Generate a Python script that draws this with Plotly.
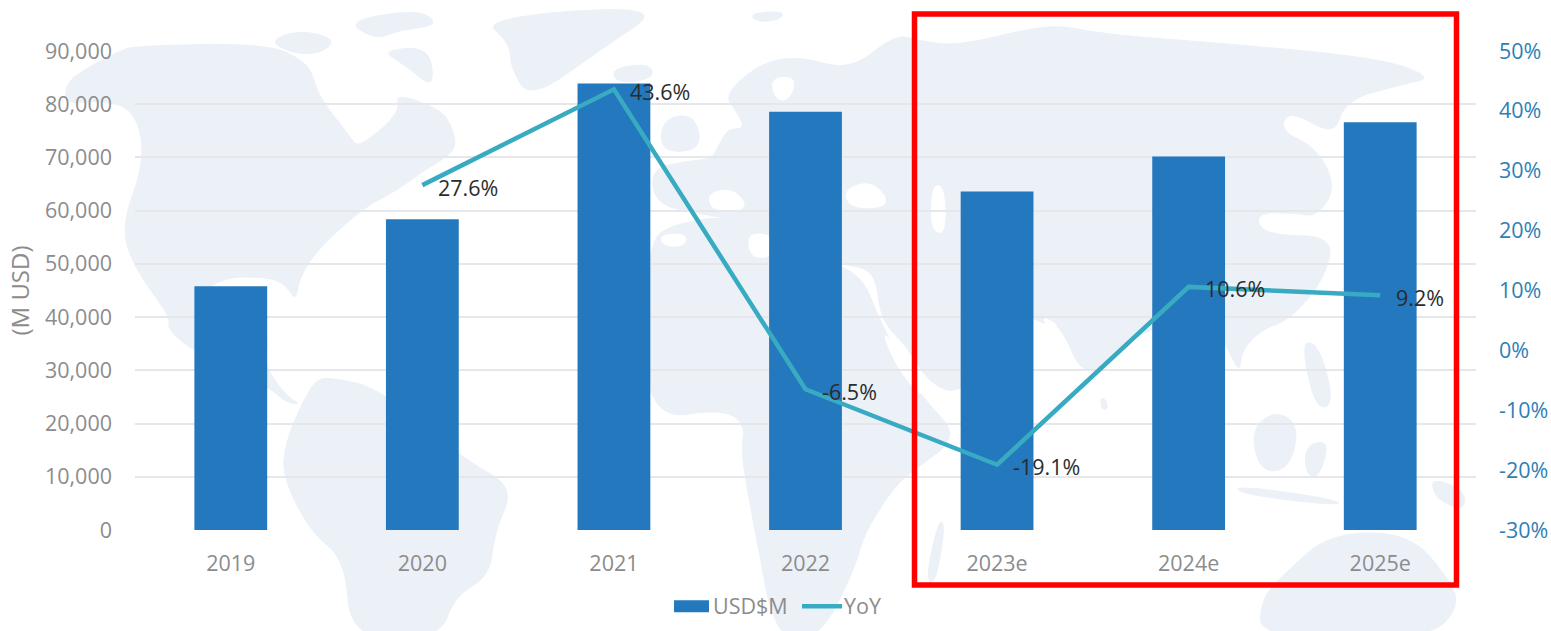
import plotly.graph_objects as go

# Chart data
years = ["2019", "2020", "2021", "2022", "2023e", "2024e", "2025e"]
revenue_usd_m = [45800, 58400, 83900, 78600, 63600, 70200, 76600]
yoy_pct = [None, 27.6, 43.6, -6.5, -19.1, 10.6, 9.2]
yoy_labels = ["", "27.6%", "43.6%", "-6.5%", "-19.1%", "10.6%", "9.2%"]
revenue_ticks = list(range(0, 90001, 10000))
yoy_ticks = list(range(-30, 51, 10))
yoy_tick_labels = ["-30%", "-20%", "-10%", "0%", "10%", "20%", "30%", "40%", "50%"]

BAR = "#2478BD"
LINE = "#38ABC3"
GREY = "#8C8C8C"
GRID = "#E5E7EA"
LAND = "#ECF1F8"
FONT = "Open Sans"
TEXT_SIZE = 21.5

# Plot rectangle in page pixels
LEFT, RIGHT, TOP, BOTTOM = 135, 1476, 50.5, 530.5
W, H = 1551, 631

# Backdrop world map, traced as rough outlines in page pixels
LAND_OUTLINES = [
    # North and Central America
    [(65,82),(90,65),(120,50),(135,45),(265,42),(310,62),(318,95),(350,135),(358,148),(400,112),(395,92),
     (440,108),(452,125),(458,150),(425,170),(395,192),(365,207),(320,247),(300,277),(296,302),(285,285),
     (270,278),(225,277),(200,295),(215,335),(260,345),(270,340),(262,360),(285,395),(302,405),(285,403),
     (270,388),(195,353),(167,330),(170,317),(135,270),(120,227),(145,160),(135,110),(100,100),(65,105)],
    # Arctic islands
    [(265,42),(300,28),(340,40),(310,58)],
    [(345,20),(420,8),(440,25),(400,30),(375,40)],
    [(380,50),(430,45),(435,90),(405,65)],
    # Greenland
    [(510,43),(480,17),(670,3),(600,50),(530,100),(510,67)],
    # South America
    [(315,380),(330,377),(380,388),(465,460),(515,487),(495,533),(490,577),(455,597),(440,640),(350,640),
     (345,560),(310,533),(282,477),(285,443),(300,407)],
    # Africa
    [(650,240),(670,225),(720,215),(770,225),(800,255),(860,270),(880,320),(905,370),(925,400),(960,437),
     (915,470),(895,487),(865,533),(855,570),(820,640),(775,640),(755,533),(740,453),(745,423),(720,410),
     (655,420),(640,340)],
    # Eurasia
    [(650,168),(690,160),(712,158),(718,145),(728,128),(745,128),(735,110),(724,94),(760,62),
     (800,55),(850,70),(895,33),(920,40),(960,45),(1050,22),(1100,33),(1230,43),(1380,57),(1435,77),
     (1400,85),(1345,100),(1335,137),(1290,110),(1280,130),(1317,147),(1337,187),(1317,217),
     (1295,213),(1255,213),(1265,235),(1335,235),(1325,280),(1290,320),(1262,330),(1242,350),(1240,375),
     (1225,345),(1210,315),(1165,325),(1130,340),(1085,383),(1060,325),(1045,325),(1025,315),(1015,350),
     (960,395),(930,385),(905,345),(880,320),(875,270),(840,265),(800,245),(760,225),(705,215),(655,205)],
    # Britain, Iceland, Svalbard
    [(662,118),(695,113),(703,150),(660,153)],
    [(610,68),(650,62),(655,78),(618,84)],
    [(750,12),(785,10),(780,20),(755,22)],
    # Madagascar, Sri Lanka
    [(938,520),(946,525),(936,585),(925,580)],
    [(1100,397),(1107,400),(1108,410),(1101,410)],
    # Southeast Asian islands
    [(1250,430),(1275,410),(1300,425),(1290,470),(1260,473)],
    [(1305,445),(1330,440),(1320,478),(1305,475)],
    [(1300,340),(1320,345),(1335,405),(1315,410)],
    [(1235,485),(1340,500),(1338,507),(1240,495)],
    [(1430,477),(1465,490),(1465,512),(1435,500)],
    # Australia
    [(1330,533),(1410,533),(1450,580),(1460,607),(1430,640),(1260,640),(1260,600),(1285,573)],
]

# Inland and marginal seas, painted over the land
SEA_OUTLINES = [
    [(843,190),(868,180),(887,195),(885,208),(850,208)],
    [(932,183),(945,187),(946,235),(930,230)],
    [(707,192),(735,188),(750,210),(712,212)],
    [(660,234),(687,233),(685,247),(662,246)],
    [(747,232),(775,235),(772,258),(750,258)],
    [(770,77),(797,76),(790,100),(775,100)],
    [(880,327),(905,357),(925,392),(918,395),(895,365)],
    [(1040,315),(1060,325),(1052,335)],
]


def to_paper(x, y):
    return (x - LEFT) / (RIGHT - LEFT), (BOTTOM - y) / (BOTTOM - TOP)


def outline_path(points):
    # Rounded coastline: curve through edge midpoints, using the vertices as control points
    coords = [to_paper(x, y) for x, y in points]
    mids = [((a[0] + b[0]) / 2, (a[1] + b[1]) / 2) for a, b in zip(coords, coords[1:] + coords[:1])]
    path = f"M{mids[-1][0]:.4f},{mids[-1][1]:.4f}"
    for ctrl, mid in zip(coords, mids):
        path += f"Q{ctrl[0]:.4f},{ctrl[1]:.4f} {mid[0]:.4f},{mid[1]:.4f}"
    return path + "Z"


shapes = []
for outline in LAND_OUTLINES:
    shapes.append(dict(type="path", xref="paper", yref="paper", layer="below",
                       path=outline_path(outline), fillcolor=LAND, line_width=0))
for outline in SEA_OUTLINES:
    shapes.append(dict(type="path", xref="paper", yref="paper", layer="below",
                       path=outline_path(outline), fillcolor="white", line_width=0))

# Forecast years highlighted by a red frame
fx0, fy0 = to_paper(914.5, 585.5)
fx1, fy1 = to_paper(1456.5, 13.5)
shapes.append(dict(type="rect", xref="paper", yref="paper", layer="above",
                   x0=fx0, y0=fy0, x1=fx1, y1=fy1,
                   line=dict(color="#FF0000", width=5.5), fillcolor="rgba(0,0,0,0)"))

# Key below the chart
kx0, ky0 = to_paper(674, 613)
kx1, ky1 = to_paper(709, 601)
shapes.append(dict(type="rect", xref="paper", yref="paper", layer="above",
                   x0=kx0, y0=ky0, x1=kx1, y1=ky1, fillcolor=BAR, line_width=0))
lx0, ly = to_paper(802, 607)
lx1, _ = to_paper(842, 607)
shapes.append(dict(type="line", xref="paper", yref="paper", layer="above",
                   x0=lx0, y0=ly, x1=lx1, y1=ly, line=dict(color=LINE, width=4.5)))

annotations = []
for text, px in (("USD$M", 711), ("YoY", 842)):
    ax, ay = to_paper(px, 606)
    annotations.append(dict(text=text, xref="paper", yref="paper", x=ax, y=ay,
                            xanchor="left", yanchor="middle", showarrow=False,
                            font=dict(family=FONT, size=TEXT_SIZE, color=GREY)))

# Growth labels sit just right of and slightly below each line vertex
for position, (value, label) in enumerate(zip(yoy_pct, yoy_labels)):
    if value is None:
        continue
    annotations.append(dict(text=label, xref="x", yref="y2", x=position, y=value,
                            xanchor="left", yanchor="middle", showarrow=False,
                            xshift=15, yshift=-2, borderpad=0,
                            font=dict(family=FONT, size=TEXT_SIZE, color="#2B2B2B")))

fig = go.Figure()
fig.add_trace(go.Bar(x=years, y=revenue_usd_m, name="USD$M", marker=dict(color=BAR, line_width=0),
                     showlegend=False, yaxis="y"))
fig.add_trace(go.Scatter(x=years, y=yoy_pct, name="YoY", mode="lines",
                         line=dict(color=LINE, width=4.5),
                         connectgaps=False, cliponaxis=False, showlegend=False, yaxis="y2"))

fig.update_layout(
    width=W, height=H, autosize=False,
    margin=dict(l=LEFT, r=W - RIGHT, t=TOP, b=H - BOTTOM, pad=0, autoexpand=False),
    paper_bgcolor="white", plot_bgcolor="rgba(0,0,0,0)",
    font=dict(family=FONT, size=TEXT_SIZE, color=GREY),
    bargap=0.62, showlegend=False,
    shapes=shapes, annotations=annotations,
    xaxis=dict(type="category", categoryorder="array", categoryarray=years, showgrid=False,
               range=[-0.5, 6.5], showline=False, zeroline=False, ticks="", ticklabelstandoff=18,
               automargin=False, tickfont=dict(family=FONT, size=TEXT_SIZE, color=GREY)),
    yaxis=dict(range=[0, 90000], tickvals=revenue_ticks, tickformat=",d", showgrid=True,
               gridcolor=GRID, gridwidth=2, zeroline=False, showline=False, ticks="",
               ticklabelstandoff=22, automargin=False, tickfont=dict(family=FONT, size=TEXT_SIZE, color=GREY),
               title=dict(text="(M USD)", font=dict(family=FONT, size=24, color=GREY), standoff=8)),
    yaxis2=dict(range=[-30, 50], tickvals=yoy_ticks, ticktext=yoy_tick_labels, overlaying="y",
                side="right", showgrid=False, zeroline=False, showline=False, ticks="",
                ticklabelstandoff=22, automargin=False,
                tickfont=dict(family=FONT, size=TEXT_SIZE, color="#2F7FB5")),
)

fig.write_html("out.html")
